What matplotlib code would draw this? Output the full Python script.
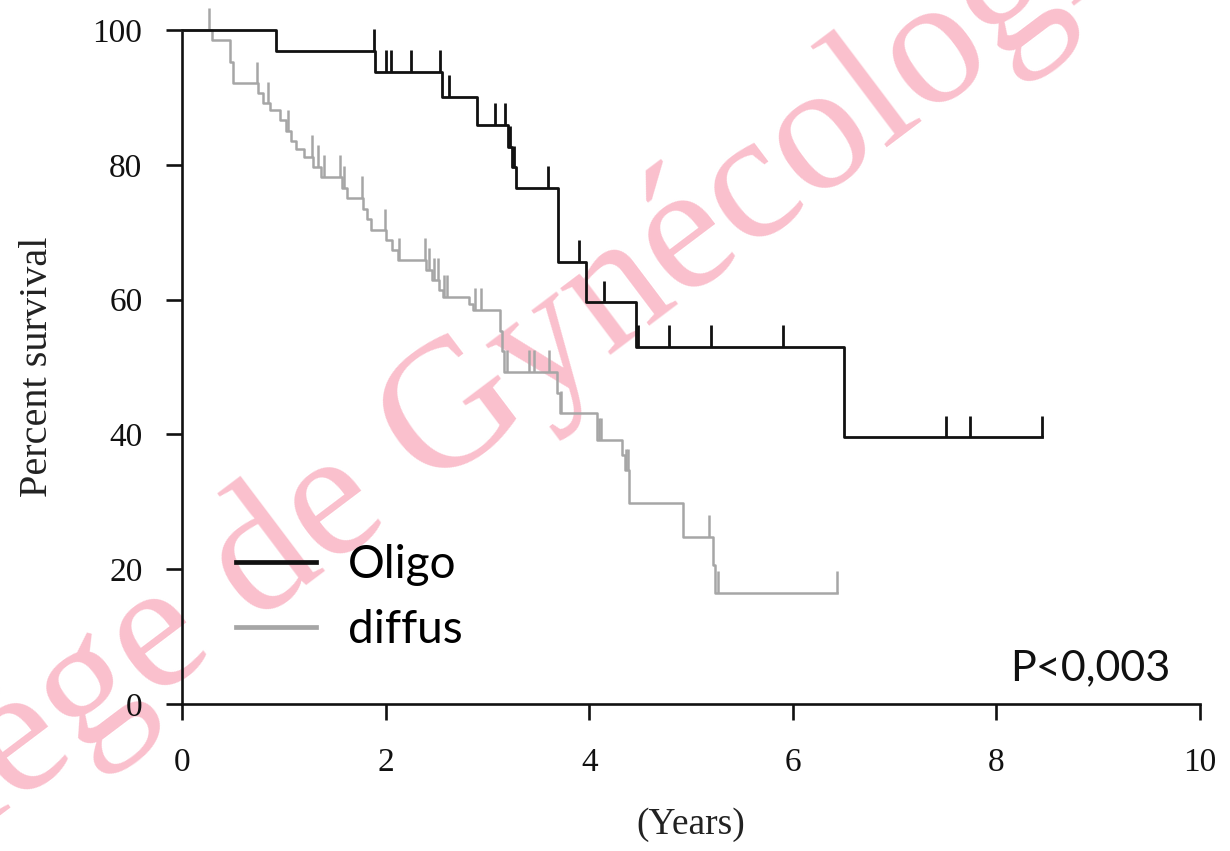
import numpy as np
import matplotlib
matplotlib.use('Agg')
import matplotlib.pyplot as plt
from matplotlib.lines import Line2D

# Kaplan-Meier data: event times (years), survival (%) after each event, censored times
oligo_event_t = [0.92, 1.90, 2.55, 2.90, 3.20, 3.24, 3.28, 3.69, 3.97, 4.46, 6.50]
oligo_surv = [96.9, 93.8, 90.1, 85.9, 82.6, 79.6, 76.6, 65.6, 59.6, 53.0, 39.6]
oligo_censor_t = [1.89, 2.00, 2.05, 2.25, 2.53, 2.62, 3.07, 3.17, 3.22, 3.26,
                  3.60, 3.90, 4.15, 4.48, 4.78, 5.20, 5.90, 7.50, 7.74, 8.45]

diffus_event_t = [0.29, 0.47, 0.50, 0.75, 0.80, 0.86, 0.96, 1.02, 1.07, 1.12,
                  1.20, 1.29, 1.37, 1.57, 1.62, 1.78, 1.82, 1.86, 2.00, 2.06,
                  2.12, 2.40, 2.46, 2.52, 2.56, 2.82, 2.86, 3.12, 3.14, 3.16,
                  3.68, 3.71, 4.08, 4.32, 4.35, 4.39, 4.92, 5.22, 5.24]
diffus_surv = [98.5, 95.3, 92.1, 90.6, 89.1, 88.1, 86.6, 85.0, 83.6, 82.4,
               81.2, 79.7, 78.2, 76.6, 75.1, 73.5, 71.9, 70.3, 68.8, 67.4,
               65.9, 64.4, 62.9, 61.4, 60.4, 59.4, 58.5, 55.4, 52.4, 49.3,
               46.2, 43.2, 39.2, 36.9, 34.7, 29.8, 24.8, 20.6, 16.5]
diffus_censor_t = [0.27, 0.74, 0.84, 1.04, 1.28, 1.34, 1.39, 1.55, 1.59, 1.77,
                   1.99, 2.13, 2.39, 2.43, 2.48, 2.51, 2.57, 2.60, 2.88, 2.94,
                   3.19, 3.41, 3.46, 3.61, 3.72, 4.10, 4.12, 4.36, 4.38, 5.18,
                   5.27, 6.43]

x_ticks = [0, 2, 4, 6, 8, 10]
y_ticks = [0, 20, 40, 60, 80, 100]
group_labels = ['Oligo', 'diffus']
p_text = 'P<0,003'

SERIF = 'Liberation Serif'
SANS = 'Lato'
BLACK = '#111111'
GREY = '#a6a6a6'
TICK_LEN = 3.2  # height of censor marks, in % units


def km_curve(ax, ev_t, surv, cens_t, color, lw):
    ev_t = np.asarray(ev_t)
    surv = np.asarray(surv)
    cens_t = np.asarray(cens_t)
    end_t = max(ev_t.max(), cens_t.max())
    t = np.concatenate([[0.0], ev_t, [end_t]])
    s = np.concatenate([[100.0], surv, [surv[-1]]])
    ax.step(t, s, where='post', color=color, lw=lw, clip_on=False, zorder=3)
    # survival level at each censored time
    idx = np.searchsorted(ev_t, cens_t, side='right') - 1
    level = np.where(idx < 0, 100.0, surv[np.clip(idx, 0, None)])
    ax.vlines(cens_t, level, level + TICK_LEN, color=color, lw=lw,
              clip_on=False, zorder=3)


fig = plt.figure(figsize=(12.3, 8.51), dpi=100)
ax = fig.add_axes([182 / 1230, 1 - 704 / 851, 1018 / 1230, 674 / 851])
ax.patch.set_alpha(0)

# watermark behind everything
fig.text(470 / 1230, 1 - 462 / 851, 'Collège de Gynécologie', family=SERIF,
         fontsize=132, color='#fac0cd', rotation=37, rotation_mode='anchor',
         ha='center', va='baseline', zorder=-5)

km_curve(ax, diffus_event_t, diffus_surv, diffus_censor_t, GREY, 1.8)
km_curve(ax, oligo_event_t, oligo_surv, oligo_censor_t, BLACK, 2.0)

ax.set_xlim(0, 10)
ax.set_ylim(0, 100)
ax.set_xticks(x_ticks)
ax.set_yticks(y_ticks)
for side in ['top', 'right']:
    ax.spines[side].set_visible(False)
for side in ['left', 'bottom']:
    ax.spines[side].set_linewidth(1.9)
    ax.spines[side].set_color(BLACK)
ax.tick_params(axis='both', direction='out', length=11.5, width=1.9, color=BLACK,
               labelsize=24, labelcolor=BLACK)
ax.tick_params(axis='x', pad=20)
ax.tick_params(axis='y', pad=17)
for lab in ax.get_xticklabels() + ax.get_yticklabels():
    lab.set_family(SERIF)

fig.text(38 / 1230, 1 - 367 / 851, 'Percent survival', family=SERIF, fontsize=29,
         rotation=90, ha='center', va='center', color='#222222')
fig.text(691 / 1230, 1 - 825 / 851, '(Years)', family=SERIF, fontsize=27,
         ha='center', va='center', color='#222222')

handles = [Line2D([], [], color=BLACK, lw=3.4),
           Line2D([], [], color=GREY, lw=3.4)]
leg = fig.legend(handles, group_labels, loc='upper left',
                 bbox_to_anchor=(236 / 1230, 1 - 544 / 851), frameon=False,
                 prop={'family': SANS, 'size': 33}, handlelength=1.75,
                 handletextpad=0.7, labelspacing=0.5, borderpad=0, borderaxespad=0)

fig.text(1170 / 1230, 1 - 668 / 851, p_text, family=SANS, fontsize=31,
         ha='right', va='center', color=BLACK)

fig.savefig('out.png', dpi=100)
